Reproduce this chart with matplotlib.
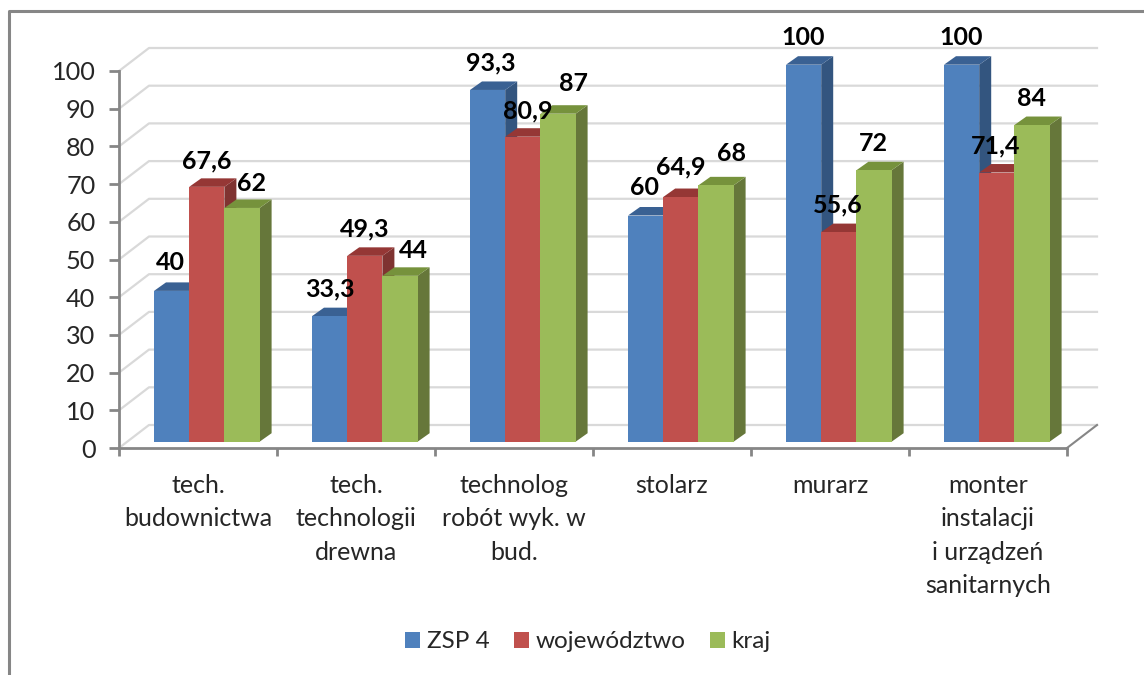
import numpy as np
import matplotlib
matplotlib.use('Agg')
import matplotlib.pyplot as plt
from matplotlib.patches import Polygon, Patch
from matplotlib.lines import Line2D

categories = ['tech.\nbudownictwa', 'tech.\ntechnologii\ndrewna', 'technolog\nrobót wyk. w\nbud.',
              'stolarz', 'murarz', 'monter\ninstalacji\ni urządzeń\nsanitarnych']
series_names = ['ZSP 4', 'województwo', 'kraj']
zsp = [40, 33.3, 93.3, 60, 100, 100]
woj = [67.6, 49.3, 80.9, 64.9, 55.6, 71.4]
kraj = [62, 44, 87, 68, 72, 84]
yticks = list(range(0, 101, 10))

front = ['#4f81bd', '#c0504d', '#9bbb59']
top = ['#3a6193', '#953735', '#76923c']
side = ['#33557f', '#7f3331', '#66773a']
# label shifts in px, the chart nudged some of them sideways
label_dx = [[-1, 0, 3, -1, 0, 0], [0, 0, 5, 0, -1, -1], [9, 13, 15, 16, -1, -1]]
label_dy = [[28, 27, 27, 28, 27, 27], [26, 27, 26, 30, 27, 27], [24, 25, 30, 32, 27, 27]]

W, H = 1144, 675
plt.rcParams['font.family'] = ['Lato', 'DejaVu Sans']
fig = plt.figure(figsize=(W/100, H/100), dpi=100)
L, R, T, B = 119, 1067, 71, 448
ax = fig.add_axes([L/W, 1-B/H, (R-L)/W, (B-T)/H])
ax.set_xlim(0, 6)
ax.set_ylim(0, 100)
px = 6/(R-L)
py = 100/(B-T)

# back wall and floor
wall_x, wall_y = 30*px, 23*py
for v in yticks:
    ax.plot([0, wall_x, 6+wall_x], [v, v+wall_y, v+wall_y], color='#d9d9d9', lw=1.6, clip_on=False, zorder=1)
ax.plot([6, 6+wall_x], [0, wall_y], color='#868686', lw=1.5, clip_on=False, zorder=1)

base = 6.3*py
bw = 35.2*px
start = 35*px
dep_x, dep_y = 12*px, 8.5*py
for s, vals in enumerate([zsp, woj, kraj]):
    z = 3+s
    xs = np.arange(6)+start+s*bw
    ax.bar(xs, vals, width=bw, bottom=base, align='edge', color=front[s], zorder=z+0.5, clip_on=False)
    for x, v in zip(xs, vals):
        t = base+v
        ax.add_patch(Polygon([(x+bw, base), (x+bw+dep_x, base+dep_y), (x+bw+dep_x, t+dep_y), (x+bw, t)],
                             fc=side[s], ec='none', zorder=z, clip_on=False))
        ax.add_patch(Polygon([(x, t), (x+dep_x, t+dep_y), (x+bw+dep_x, t+dep_y), (x+bw, t)],
                             fc=top[s], ec='none', zorder=z, clip_on=False))
    for i, (x, v) in enumerate(zip(xs, vals)):
        txt = ('%g' % v).replace('.', ',')
        ax.annotate(txt, (x+bw/2, base+v), xytext=(label_dx[s][i]*0.72, label_dy[s][i]*0.72),
                    textcoords='offset points', ha='center', va='center', fontsize=18,
                    fontweight='bold', color='black', zorder=10, annotation_clip=False)

for sp in ['top', 'right']:
    ax.spines[sp].set_visible(False)
for sp in ['left', 'bottom']:
    ax.spines[sp].set_color('#868686')
    ax.spines[sp].set_linewidth(2)
    ax.spines[sp].set_zorder(2)
ax.patch.set_alpha(0)
ax.set_yticks(yticks)
ax.tick_params(axis='y', length=7, width=2, color='#868686', labelsize=18.2, labelcolor='#262626', pad=10)
ax.set_xticks(range(7))
ax.set_xticklabels([])
ax.tick_params(axis='x', which='major', length=6, width=2, color='#868686')
ax.set_xticks(np.arange(6)+0.5, minor=True)
ax.set_xticklabels(categories, minor=True, fontsize=18, color='#262626', linespacing=1.55)
ax.tick_params(axis='x', which='minor', length=0, pad=18.5)

handles = [Patch(fc=c, ec='none') for c in front]
fig.legend(handles, series_names, loc='center', bbox_to_anchor=(588/W, 1-642/H), ncols=3, frameon=False,
           fontsize=17.5, labelcolor='#262626', handlelength=0.6, handleheight=0.6,
           handletextpad=0.28, columnspacing=1.02)

# outer chart frame, only left and top show in the crop
fig.add_artist(Line2D([8.5/W, 8.5/W, 1], [0, 1-11/H, 1-11/H], color='#868686', lw=2.2))

plt.savefig('out.png', dpi=100)
